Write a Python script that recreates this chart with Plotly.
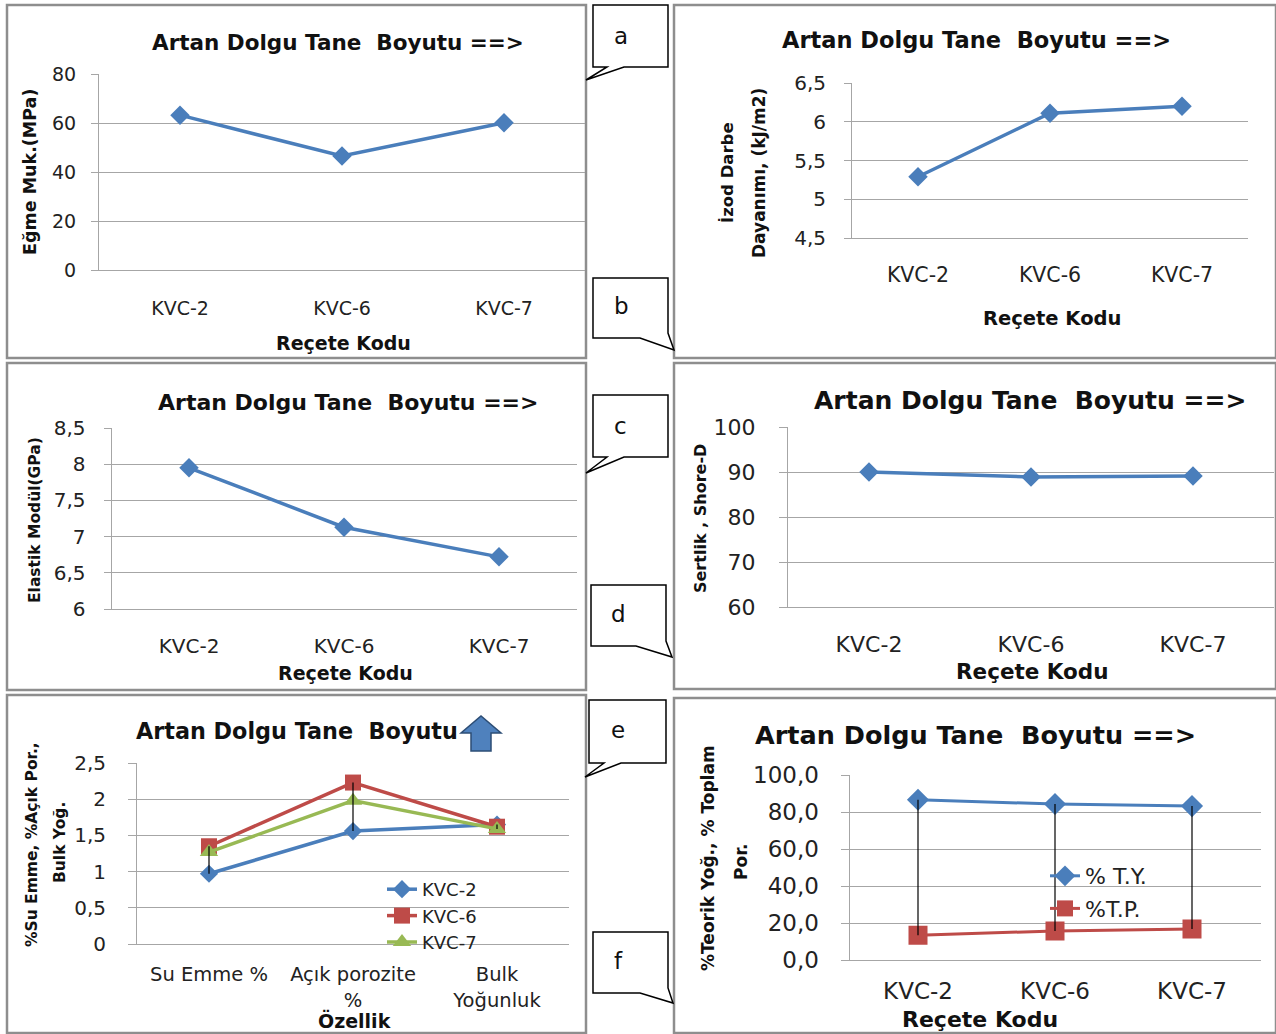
import plotly.graph_objects as go

W, H = 1276, 1034

# ---------------- data ----------------
recete = ["KVC-2", "KVC-6", "KVC-7"]
egme_muk = [63.2, 46.5, 60.1]
izod_darbe = [5.29, 6.11, 6.20]
elastik_modul = [7.95, 7.13, 6.72]
sertlik = [90.0, 88.9, 89.1]

ozellik = ["Su Emme %", "Açık porozite<br>%", "Bulk<br>Yoğunluk"]
ozellik_kvc2 = [0.97, 1.56, 1.65]
ozellik_kvc6 = [1.35, 2.23, 1.62]
ozellik_kvc7 = [1.27, 1.98, 1.59]

teorik_yog = [86.6, 84.3, 83.2]
toplam_por = [13.4, 15.7, 16.8]

ticks_a = [0, 20, 40, 60, 80]
labels_a = ["0", "20", "40", "60", "80"]
ticks_b = [4.5, 5, 5.5, 6, 6.5]
labels_b = ["4,5", "5", "5,5", "6", "6,5"]
ticks_c = [6, 6.5, 7, 7.5, 8, 8.5]
labels_c = ["6", "6,5", "7", "7,5", "8", "8,5"]
ticks_d = [60, 70, 80, 90, 100]
labels_d = ["60", "70", "80", "90", "100"]
ticks_e = [0, 0.5, 1, 1.5, 2, 2.5]
labels_e = ["0", "0,5", "1", "1,5", "2", "2,5"]
ticks_f = [0, 20, 40, 60, 80, 100]
labels_f = ["0,0", "20,0", "40,0", "60,0", "80,0", "100,0"]

panel_title = "Artan Dolgu Tane  Boyutu ==>"
panel_title_e = "Artan Dolgu Tane  Boyutu"

# ---------------- style ----------------
FONT = "DejaVu Sans"
BLUE = "#4A7EBB"
RED = "#BE4B48"
GREEN = "#98B954"
GRID = "#A6A6A6"
BORDER = "#8E8E8E"


def px(x):
    return x / W


def py(y):
    return 1 - y / H


fig = go.Figure()

# geometry of each panel: (x_left, x_right, y_top, y_bottom) in pixels
geo = {
    1: (99, 585, 74, 270),
    2: (852, 1248, 83, 238),
    3: (111.5, 576.5, 428, 609),
    4: (788, 1274, 427, 607),
    5: (137, 569, 763, 944),
    6: (849.5, 1260.5, 775, 960),
}
yconf = {
    1: (ticks_a, labels_a, 19, 11, 7, 19, 21),
    2: (ticks_b, labels_b, 20, 14, 7, 20.5, 18),
    3: (ticks_c, labels_c, 20, 14, 7, 20, 19),
    4: (ticks_d, labels_d, 22, 19, 8, 22, 18),
    5: (ticks_e, labels_e, 20, 18, 8, 19.5, 13),
    6: (ticks_f, labels_f, 23, 17, 8, 23, 10),
}
cats = {1: recete, 2: recete, 3: recete, 4: recete, 5: ozellik, 6: recete}

layout_axes = {}
for n, (x0, x1, y0, y1) in geo.items():
    tv, tt, yfs, ystand, tlen, xfs, xstand = yconf[n]
    s = "" if n == 1 else str(n)
    ya = dict(
        domain=[py(y1), py(y0)], range=[tv[0], tv[-1]], tickvals=tv, ticktext=tt,
        showgrid=True, gridcolor=GRID, gridwidth=1, showline=True, linecolor=GRID,
        linewidth=1, ticks="outside", ticklen=tlen, tickcolor=GRID,
        tickfont=dict(family=FONT, size=yfs, color="#222"), ticklabelstandoff=ystand,
        zeroline=False, anchor="x" + s, fixedrange=True, automargin=False,
    )
    xa = dict(
        domain=[px(x0), px(x1)], type="category", categoryorder="array",
        categoryarray=cats[n], range=[-0.5, 2.5], showgrid=False, showline=True,
        linecolor=GRID, linewidth=1, ticks="", zeroline=False,
        tickfont=dict(family=FONT, size=xfs, color="#222"), ticklabelstandoff=xstand,
        anchor="y" + s, fixedrange=True, automargin=False,
    )
    layout_axes["xaxis" + s] = xa
    layout_axes["yaxis" + s] = ya


def single(n, vals, msize=15):
    s = "" if n == 1 else str(n)
    fig.add_trace(go.Scatter(
        x=recete, y=vals, xaxis="x" + s, yaxis="y" + s, mode="lines+markers",
        line=dict(color=BLUE, width=3.5),
        marker=dict(symbol="diamond", size=msize, color=BLUE),
        showlegend=False, hoverinfo="x+y",
    ))


single(1, egme_muk)
single(2, izod_darbe)
single(3, elastik_modul)
single(4, sertlik)

# ---- panel e ----
for name, vals, col, sym, ms in [
    ("KVC-2", ozellik_kvc2, BLUE, "diamond", 14),
    ("KVC-6", ozellik_kvc6, RED, "square", 16),
    ("KVC-7", ozellik_kvc7, GREEN, "triangle-up", 16),
]:
    fig.add_trace(go.Scatter(
        x=ozellik, y=vals, xaxis="x5", yaxis="y5", mode="lines+markers", name=name,
        line=dict(color=col, width=3.5), marker=dict(symbol=sym, size=ms, color=col),
        legend="legend",
    ))
hl_x, hl_y = [], []
for i, c in enumerate(ozellik):
    v = [ozellik_kvc2[i], ozellik_kvc6[i], ozellik_kvc7[i]]
    hl_x += [c, c, None]
    hl_y += [min(v), max(v), None]
fig.add_trace(go.Scatter(x=hl_x, y=hl_y, xaxis="x5", yaxis="y5", mode="lines",
                         line=dict(color="black", width=1.2), showlegend=False,
                         hoverinfo="skip"))

# ---- panel f ----
fig.add_trace(go.Scatter(
    x=recete, y=teorik_yog, xaxis="x6", yaxis="y6", mode="lines+markers", name="% T.Y.",
    line=dict(color=BLUE, width=3), marker=dict(symbol="diamond", size=17, color=BLUE),
    legend="legend2", legendgroup="ty",
))
fig.add_trace(go.Scatter(
    x=recete, y=toplam_por, xaxis="x6", yaxis="y6", mode="lines+markers", name="%T.P.",
    line=dict(color=RED, width=3), marker=dict(symbol="square", size=19, color=RED),
    legend="legend2", legendgroup="tp",
))
hf_x, hf_y = [], []
for i, c in enumerate(recete):
    hf_x += [c, c, None]
    hf_y += [min(teorik_yog[i], toplam_por[i]), max(teorik_yog[i], toplam_por[i]), None]
fig.add_trace(go.Scatter(x=hf_x, y=hf_y, xaxis="x6", yaxis="y6", mode="lines",
                         line=dict(color="black", width=1.2), showlegend=False,
                         hoverinfo="skip"))

# ---------------- shapes ----------------
shapes = []


def rect(x0, y0, x1, y1):
    shapes.append(dict(type="rect", xref="paper", yref="paper", x0=px(x0), x1=px(x1),
                       y0=py(y1), y1=py(y0), line=dict(color=BORDER, width=2.5),
                       fillcolor="rgba(0,0,0,0)", layer="below"))


rect(7, 5, 586, 358)
rect(674, 5, 1276, 358)
rect(7, 363, 586, 690)
rect(674, 363, 1276, 689)
rect(7, 695, 586, 1033)
rect(674, 698, 1276, 1033)


def path(points, fill="white", line="black", width=1.5):
    d = "M " + " L ".join(f"{px(x):.5f},{py(y):.5f}" for x, y in points) + " Z"
    shapes.append(dict(type="path", xref="paper", yref="paper", path=d,
                       fillcolor=fill, line=dict(color=line, width=width), layer="above"))


# callouts with tail to the left-bottom (a, c, e)
def callout_left(x0, y0, x1, y1, ax, ay, b0, b1):
    path([(x0, y0), (x1, y0), (x1, y1), (b1, y1), (ax, ay), (b0, y1), (x0, y1)])


# callouts with tail to the right-bottom (b, d, f)
def callout_right(x0, y0, x1, y1, ax, ay, bx, by):
    path([(x0, y0), (x1, y0), (x1, by), (ax, ay), (bx, y1), (x0, y1)])


callout_left(593, 5, 668, 67, 586, 80, 607, 624)
callout_right(593, 278, 668, 338, 674, 350, 640, 333)
callout_left(593, 395, 668, 457, 586, 473, 607, 624)
callout_right(591, 585, 666, 646, 672, 657, 636, 641)
callout_left(589, 700, 666, 763, 585, 777, 604, 621)
callout_right(593, 932, 668, 993, 673, 1003, 640, 988)

# blue up arrow in panel e title
path([(471, 751), (471, 733), (461, 733), (481, 716), (501, 733), (491, 733), (491, 751)],
     fill="#4F81BD", line="#2C4D75", width=1.5)

# ---------------- annotations ----------------
ann = []


def text(x, y, t, size, bold=False, angle=0, xanchor="center"):
    ann.append(dict(
        x=px(x), y=py(y), xref="paper", yref="paper", showarrow=False,
        text=f"<b>{t}</b>" if bold else t, textangle=angle, xanchor=xanchor,
        yanchor="middle", font=dict(family=FONT, size=size, color="#111"),
    ))


# panel titles
text(338, 43, panel_title, 21.5, True)
text(976, 40, panel_title, 22.5, True)
text(348, 402, panel_title, 22, True)
text(1030, 401, panel_title, 25, True)
text(297, 731, panel_title_e, 22.3, True)
text(975, 735, panel_title, 25.5, True)

# x titles
text(343, 343, "Reçete Kodu", 19, True)
text(1052, 318, "Reçete Kodu", 19.5, True)
text(345, 673, "Reçete Kodu", 19, True)
text(1032, 671, "Reçete Kodu", 21.5, True)
text(354, 1020, "Özellik", 19, True)
text(980, 1019, "Reçete Kodu", 22, True)

# y titles
text(30, 172, "Eğme Muk.(MPa)", 17.5, True, -90)
text(727, 173, "İzod Darbe", 16.5, True, -90)
text(759, 173, "Dayanımı, (kJ/m2)", 17, True, -90)
text(35, 520, "Elastik Modül(GPa)", 15.5, True, -90)
text(700, 519, "Sertlik , Shore-D", 16, True, -90)
text(32, 845, "%Su Emme, %Açık Por.,", 15.5, True, -90)
text(60, 843, "Bulk Yoğ.", 15.5, True, -90)
text(708, 858, "%Teorik Yoğ., % Toplam", 17, True, -90)
text(741, 862, "Por.", 17, True, -90)

# callout letters
text(621, 36, "a", 23)
text(621, 306, "b", 23)
text(620, 426, "c", 23)
text(618, 614, "d", 23)
text(618, 730, "e", 23)
text(618, 961, "f", 23)

fig.update_layout(
    template="none",
    width=W, height=H, autosize=False,
    margin=dict(l=0, r=0, t=0, b=0, pad=0, autoexpand=False),
    paper_bgcolor="white", plot_bgcolor="rgba(0,0,0,0)",
    font=dict(family=FONT, color="#222"),
    shapes=shapes, annotations=ann,
    legend=dict(x=px(382), y=py(871), xanchor="left", yanchor="top",
                bgcolor="rgba(0,0,0,0)", font=dict(family=FONT, size=18, color="#222"),
                tracegroupgap=0),
    legend2=dict(x=px(1045), y=py(855), xanchor="left", yanchor="top",
                 bgcolor="rgba(0,0,0,0)", font=dict(family=FONT, size=22, color="#222"),
                 traceorder="grouped", tracegroupgap=1),
    **layout_axes,
)

fig.write_html(
    "out.html",
    config={"displayModeBar": False},
    post_script="document.body.style.margin='0px';document.body.style.overflow='hidden';",
)
